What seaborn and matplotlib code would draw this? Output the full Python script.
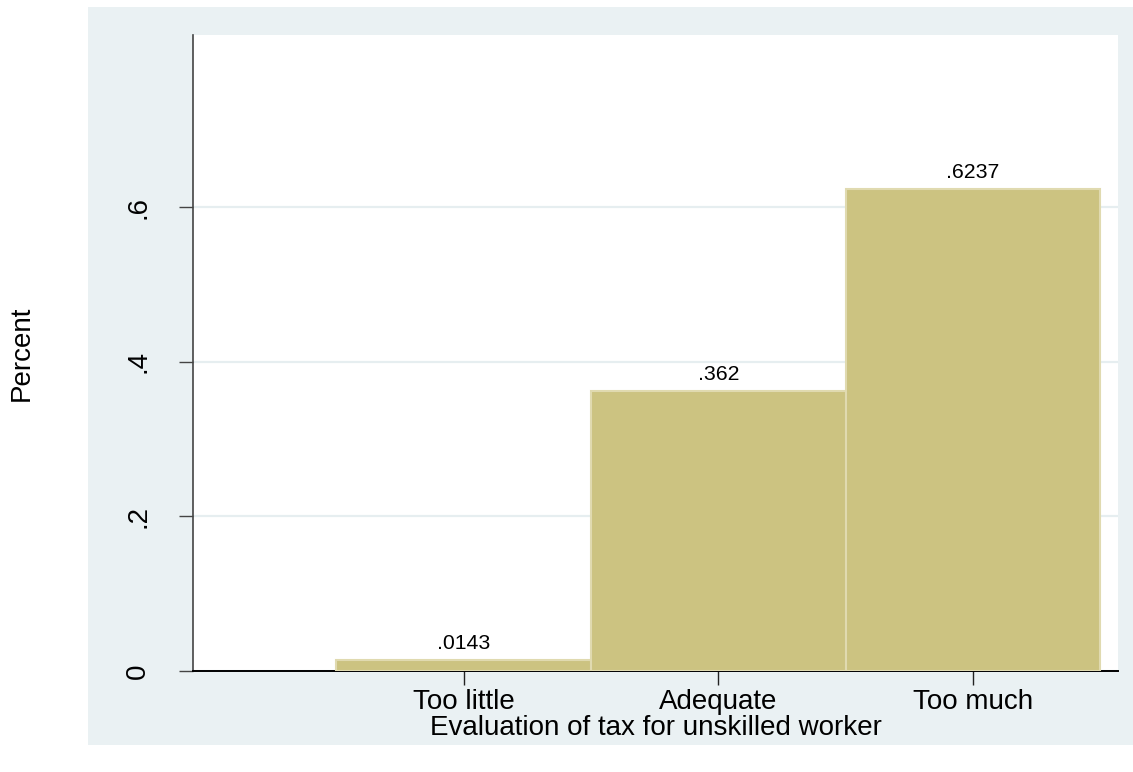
import numpy as np
import pandas as pd
import matplotlib
matplotlib.use("Agg")
import matplotlib.pyplot as plt
import seaborn as sns
from matplotlib.patches import Rectangle

# data
categories = ["Too little", "Adequate", "Too much"]
shares = [0.0143, 0.362, 0.6237]
bar_labels = [".0143", ".362", ".6237"]
yticks = [0, 0.2, 0.4, 0.6]
ytick_labels = ["0", ".2", ".4", ".6"]

df = pd.DataFrame({"category": categories, "share": shares})

sns.set_style("white")
plt.rcParams["font.family"] = ["Liberation Sans", "DejaVu Sans"]
plt.rcParams["text.color"] = "black"
plt.rcParams["xtick.color"] = "black"
plt.rcParams["ytick.color"] = "black"
plt.rcParams["axes.labelcolor"] = "black"

bg = "#EAF1F3"
khaki = "#CCC381"
fs = 20

fig = plt.figure(figsize=(11.33, 7.72), dpi=100)
# stata-like grey panel behind the plot region
fig.patches.append(Rectangle((88 / 1133, 27 / 772), 1 - 88 / 1133, 738 / 772,
                             transform=fig.transFigure, facecolor=bg,
                             edgecolor="none", zorder=-5))

ax = fig.add_axes([193 / 1133, 101 / 772, 925 / 1133, 636 / 772])
ax.set_facecolor("white")

sns.barplot(data=df, x="category", y="share", color=khaki, saturation=1,
            width=1, edgecolor="#E0DAB0", linewidth=1.5, ax=ax, zorder=3)

ax.bar_label(ax.containers[0], labels=bar_labels, padding=5, fontsize=15.3, color="black")

ax.set_xlim(-1.063, 2.569)
ax.set_ylim(0, 0.823)
ax.set_yticks(yticks)
ax.set_yticklabels(ytick_labels, rotation=90, va="center", fontsize=fs)
ax.set_xticks(range(len(categories)))
ax.set_xticklabels(categories, fontsize=fs)

ax.yaxis.grid(True, color="#E6EEF0", linewidth=1.6, zorder=0)
ax.set_axisbelow(True)

ax.tick_params(axis="y", length=10, width=1, color="#444444", pad=20, direction="out", left=True)
ax.tick_params(axis="x", length=10, width=1, color="#222222", pad=3, direction="out", bottom=True)

for side in ["top", "right"]:
    ax.spines[side].set_visible(False)
ax.spines["left"].set_color("#444444")
ax.spines["left"].set_linewidth(1.2)
ax.spines["bottom"].set_color("black")
ax.spines["bottom"].set_linewidth(1.4)

ax.set_xlabel("Evaluation of tax for unskilled worker", fontsize=fs, labelpad=0)
ax.set_ylabel("")
fig.text(22 / 1133, 1 - 353 / 772, "Percent", rotation=90, fontsize=fs,
         ha="center", va="center")

fig.savefig("out.png", dpi=100, facecolor="white")
